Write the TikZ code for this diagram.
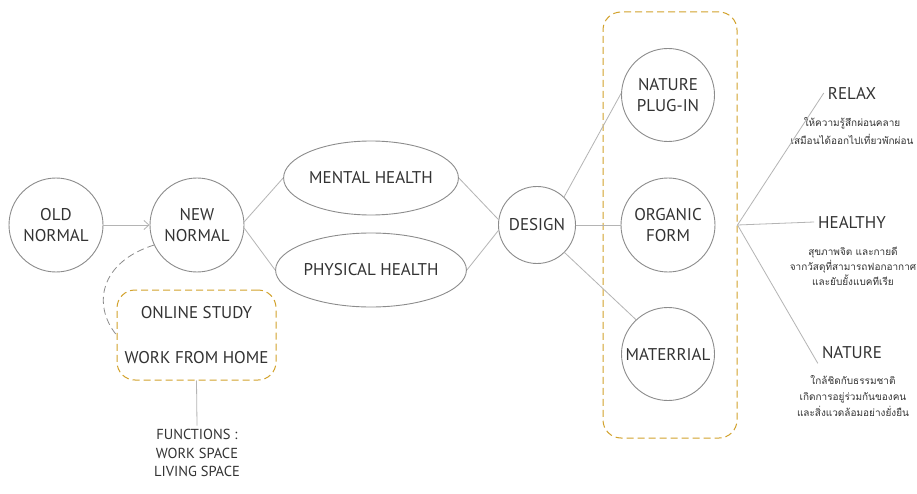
\documentclass[tikz,border=0pt]{standalone}
\usepackage{fontspec}
\setmainfont{PT Sans}
\newfontfamily\thaifont[Script=Thai]{Loma}
\usetikzlibrary{shapes.geometric,arrows.meta}
\definecolor{txt}{HTML}{333333}
\definecolor{ring}{HTML}{8C8C8C}
\definecolor{link}{HTML}{B4B4B4}
\definecolor{gold}{HTML}{D2A22C}
\begin{document}
\begin{tikzpicture}[x=1pt,y=-1pt,
 every node/.style={text=txt, font=\fontsize{17}{21}\selectfont},
 circ/.style={circle, draw=ring, line width=0.9pt, minimum size=#1, inner sep=0pt, align=center},
 oval/.style={ellipse, draw=ring, line width=0.9pt, minimum width=162, minimum height=74, inner sep=0pt},
 conn/.style={draw=link, line width=0.8pt},
 goldbox/.style={draw=gold, dash pattern=on 7pt off 4pt, line width=1pt, rounded corners=18pt},
 lbl/.style={inner sep=4pt},
 thai/.style={font=\thaifont\fontsize{10}{#1}\selectfont, align=center}
]
\fill[white] (0,0) rectangle (917,494);
\useasboundingbox (0,0) rectangle (917,494);

\node[circ=94] (old) at (56,225) {OLD\\NORMAL};
\node[circ=94] (new) at (197,225) {NEW\\NORMAL};
\node[oval] (mental) at (371,178) {MENTAL HEALTH};
\node[oval] (phys) at (371,270) {PHYSICAL HEALTH};
\node[circ=77] (design) at (537,225) {DESIGN};
\node[goldbox, minimum width=134, minimum height=426, inner sep=0pt] (grp) at (670,225) {};
\node[circ=93] (plug) at (668,95) {NATURE\\PLUG-IN};
\node[circ=94] (organic) at (668,225) {ORGANIC\\FORM};
\node[circ=93] (mat) at (668,354) {MATERRIAL};

\node[goldbox, minimum width=159, minimum height=90, inner sep=0pt, align=center] (online) at (196.5,335) {ONLINE STUDY\\[24pt]WORK FROM HOME};
\node[align=center, font=\fontsize{14.5}{18.5}\selectfont] (func) at (197,453) {FUNCTIONS :\\WORK SPACE\\LIVING SPACE};

\node[lbl] (relax) at (852,93) {RELAX};
\node[thai=18] (relaxt) at (852,131) {ให้ความรู้สึกผ่อนคลาย\\เสมือนได้ออกไปเที่ยวพักผ่อน};
\node[lbl] (healthy) at (852,222) {HEALTHY};
\node[thai=15] (healthyt) at (853,266) {สุขภาพจิต และกายดี\\จากวัสดุที่สามารถฟอกอากาศ\\และยับยั้งแบคทีเรีย};
\node[lbl] (nature) at (852,353) {NATURE};
\node[thai=16] (naturet) at (853,396) {ใกล้ชิดกับธรรมชาติ\\เกิดการอยู่ร่วมกันของคน\\และสิ่งแวดล้อมอย่างยั่งยืน};

\draw[conn, -{Straight Barb[length=5pt,width=9pt]}] (old) -- (new);
\draw[conn] (new.4) -- (mental.west);
\draw[conn] (new.-4) -- (phys.west);
\draw[conn] (mental.east) -- (design.172);
\draw[conn] (phys.east) -- (design.188);
\draw[conn] (design.46) -- (plug.178);
\draw[conn] (design.east) -- (organic.west);
\draw[conn] (design.-45) -- (mat.133);
\draw[conn, dash pattern=on 7pt off 4pt, draw=ring] (new.205) .. controls (100,262) and (92,305) .. (online.west);
\draw[conn] (online.south) -- (func.north);
\draw[conn] (grp.east) -- (relax.west);
\draw[conn] (grp.east) -- (healthy.west);
\draw[conn] (grp.east) -- (nature.south west);
\end{tikzpicture}
\end{document}
